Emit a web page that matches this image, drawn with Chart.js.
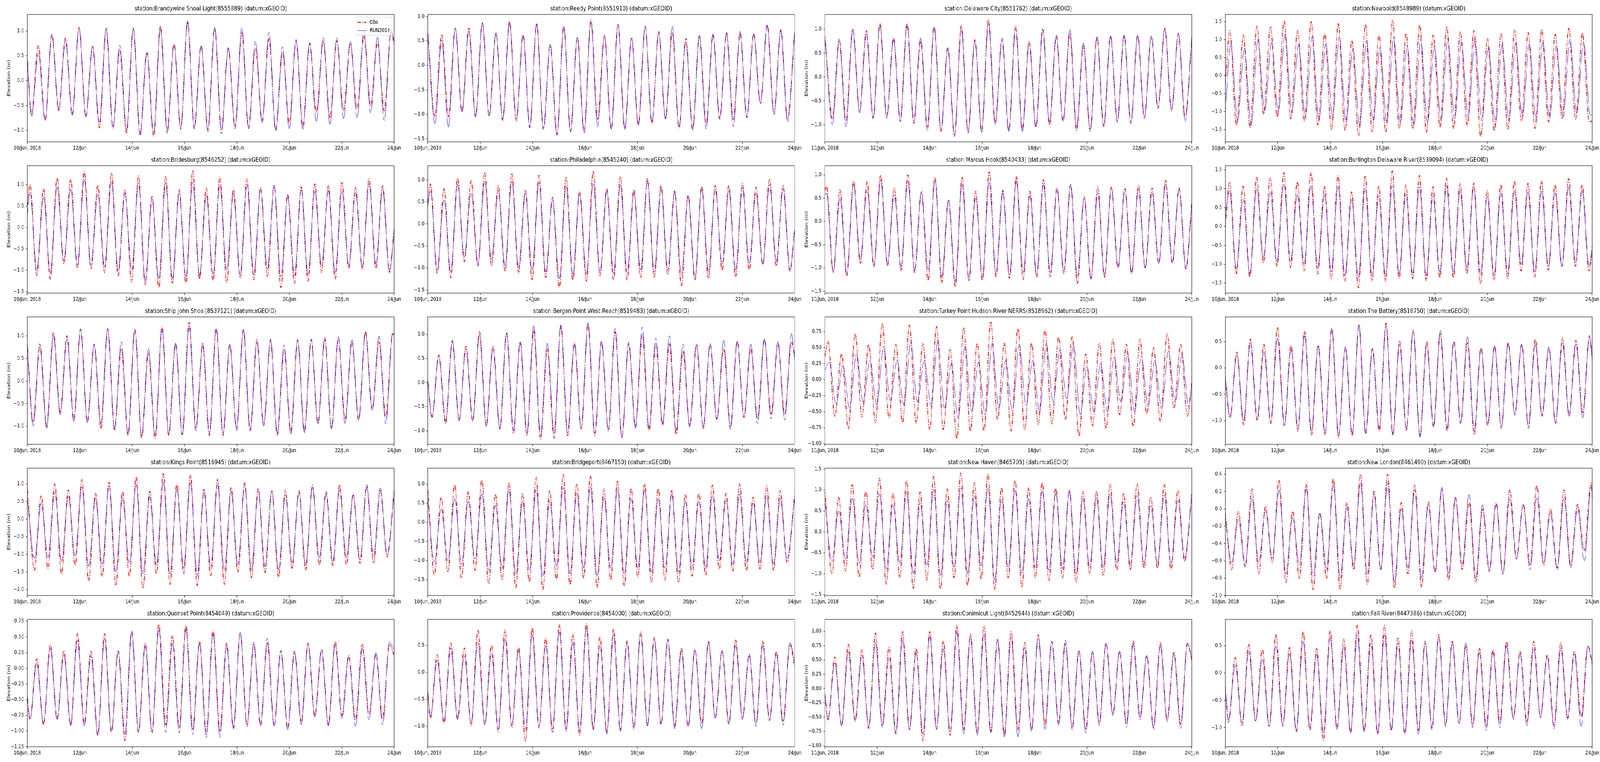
<!DOCTYPE html>
<html><head><meta charset="utf-8">
<script src="https://cdn.jsdelivr.net/npm/chart.js@4.4.0/dist/chart.umd.min.js"></script>
<style>
html,body{margin:0;padding:0;background:#fff;width:100%;height:100%;overflow:hidden}
#stage{position:absolute;left:0;top:0;width:5150px;height:1950px;transform-origin:0 0}
#stage canvas{position:absolute}
</style></head><body>
<div id="stage"></div>
<script>
// ---------------- data ----------------
const tickDays = [0, 2, 4, 6, 8, 10, 12, 14];
const tickLabels = ["10/Jun, 2018", "12/Jun", "14/Jun", "16/Jun", "18/Jun", "20/Jun", "22/Jun", "24/Jun"];
const dayEnd = 14;
const halfTideDays = 0.2588;
const legendLabels = ["Obs", "RUN2018"];
const yAxisLabel = "Elevation (m)";

const stationTitles = [
  "station:Brandywine Shoal Light(8555889) (datum:xGEOID)",
  "station:Reedy Point(8551910) (datum:xGEOID)",
  "station:Delaware City(8551762) (datum:xGEOID)",
  "station:Newbold(8548989) (datum:xGEOID)",
  "station:Bridesburg(8546252) (datum:xGEOID)",
  "station:Philadelphia(8545240) (datum:xGEOID)",
  "station:Marcus Hook(8540433) (datum:xGEOID)",
  "station:Burlington Delaware River(8539094) (datum:xGEOID)",
  "station:Ship John Shoal(8537121) (datum:xGEOID)",
  "station:Bergen Point West Reach(8519483) (datum:xGEOID)",
  "station:Turkey Point Hudson River NERRS(8518962) (datum:xGEOID)",
  "station:The Battery(8518750) (datum:xGEOID)",
  "station:Kings Point(8516945) (datum:xGEOID)",
  "station:Bridgeport(8467150) (datum:xGEOID)",
  "station:New Haven(8465705) (datum:xGEOID)",
  "station:New London(8461490) (datum:xGEOID)",
  "station:Quonset Point(8454049) (datum:xGEOID)",
  "station:Providence(8454000) (datum:xGEOID)",
  "station:Conimicut Light(8452944) (datum:xGEOID)",
  "station:Fall River(8447386) (datum:xGEOID)"
];
// day (after 10 Jun 00:00) of the first high/low water
const firstExtremeDay = [0.161,0.27,0.29,0.17,0.10,0.10,0.06,0.16,0.22,0.16,0.12,0.18,0.27,0.25,0.27,0.24,0.10,0.10,0.12,0.12];
const runLagDays = [0,0,0,0.04,0,0,0,0,0,0,0.05,0,0,0,0,0,0,0,0,0];
const yMin = [-1.23,-1.56,-1.36,-1.84,-1.53,-1.57,-1.54,-1.76,-1.40,-1.28,-1.01,-1.45,-2.17,-1.91,-1.52,-1.00,-1.25,-1.38,-1.02,-1.35];
const yMax = [1.33,1.04,1.31,1.70,1.44,1.32,1.20,1.61,1.42,1.36,0.98,0.97,1.45,1.41,1.52,0.47,0.78,0.98,1.21,0.98];
const yTicks = [
  [-1.0,-0.5,0,0.5,1.0],
  [-1.5,-1.0,-0.5,0,0.5,1.0],
  [-1.0,-0.5,0,0.5,1.0],
  [-1.5,-1.0,-0.5,0,0.5,1.0,1.5],
  [-1.5,-1.0,-0.5,0,0.5,1.0],
  [-1.5,-1.0,-0.5,0,0.5,1.0],
  [-1.5,-1.0,-0.5,0,0.5,1.0],
  [-1.5,-1.0,-0.5,0,0.5,1.0,1.5],
  [-1.0,-0.5,0,0.5,1.0],
  [-1.0,-0.5,0,0.5,1.0],
  [-1.0,-0.75,-0.5,-0.25,0,0.25,0.5,0.75],
  [-1.0,-0.5,0,0.5],
  [-2.0,-1.5,-1.0,-0.5,0,0.5,1.0],
  [-1.5,-1.0,-0.5,0,0.5,1.0],
  [-1.5,-1.0,-0.5,0,0.5,1.0,1.5],
  [-1.0,-0.8,-0.6,-0.4,-0.2,0,0.2,0.4],
  [-1.25,-1.0,-0.75,-0.5,-0.25,0,0.25,0.5,0.75],
  [-1.0,-0.5,0,0.5],
  [-1.0,-0.75,-0.5,-0.25,0,0.25,0.5,0.75,1.0],
  [-1.0,-0.5,0,0.5]
];
const yTickDecimals = [1,1,1,1,1,1,1,1,1,1,2,1,1,1,1,1,2,1,2,1];

// series: [value at start, successive high/low waters..., value at end]
const obs01 = [0.40,-0.68,0.70,-0.80,0.93,-0.60,0.85,-0.68,1.06,-0.72,0.70,-0.95,1.03,-0.95,0.62,-1.05,1.05,-1.10,0.55,-1.12,1.10,-1.02,0.74,-0.97,1.20,-0.95,0.70,-0.98,1.05,-1.00,0.65,-0.92,0.98,-0.95,0.65,-0.80,0.84,-1.00,0.57,-0.85,0.80,-0.92,0.74,-0.63,0.80,-0.75,0.80,-0.60,0.75,-0.56,0.90,-0.50,0.77,-0.60,0.98,0.73];
const run01 = [0.42,-0.72,0.55,-0.80,0.93,-0.57,0.80,-0.70,1.08,-0.73,0.67,-0.85,1.06,-0.93,0.71,-1.00,1.06,-1.08,0.58,-1.08,1.05,-1.06,0.72,-0.98,1.18,-0.97,0.70,-1.03,1.07,-1.07,0.67,-0.97,1.06,-0.97,0.79,-0.85,0.97,-1.00,0.68,-0.97,0.83,-0.98,0.77,-0.82,0.86,-0.88,0.86,-0.77,0.79,-0.75,1.00,-0.65,0.88,-0.80,1.00,0.78];
const obs02 = [0.66,-1.05,0.63,-1.05,0.76,-0.93,0.76,-1.05,0.87,-1.03,0.66,-1.10,0.90,-1.13,0.62,-1.25,0.85,-1.30,0.42,-1.40,0.80,-1.35,0.57,-1.35,0.93,-1.10,0.62,-1.30,0.85,-1.30,0.57,-1.20,0.80,-1.18,0.67,-1.08,0.67,-1.28,0.55,-1.30,0.62,-1.20,0.62,-1.08,0.67,-1.10,0.65,-1.05,0.65,-0.77,0.83,-0.98,0.73,-1.10,0.72];
const run02 = [0.62,-1.19,0.52,-1.26,0.76,-0.95,0.70,-1.05,0.87,-1.03,0.65,-1.13,0.86,-1.10,0.62,-1.28,0.85,-1.28,0.43,-1.43,0.78,-1.35,0.57,-1.38,0.88,-1.25,0.60,-1.30,0.82,-1.28,0.55,-1.23,0.80,-1.15,0.70,-1.10,0.80,-1.25,0.48,-1.32,0.60,-1.30,0.65,-1.10,0.65,-1.25,0.70,-1.07,0.63,-0.78,0.82,-1.00,0.72,-1.15,0.72];
const obs03 = [0.88,-0.87,0.80,-0.92,1.02,-0.73,0.97,-0.85,1.12,-0.85,0.82,-0.93,1.12,-0.97,0.75,-1.12,1.05,-1.15,0.60,-1.25,1.07,-1.15,0.78,-1.13,1.20,-0.95,0.80,-1.12,1.07,-1.10,0.75,-1.05,1.00,-1.00,0.85,-0.93,0.90,-1.12,0.65,-1.10,0.82,-1.05,0.85,-0.92,0.87,-0.97,0.87,-0.85,0.85,-0.65,1.02,-0.70,0.90,-0.82,0.75];
const run03 = [0.85,-1.00,0.75,-1.05,0.98,-0.75,0.90,-0.88,1.08,-0.87,0.78,-0.92,1.07,-0.92,0.82,-1.05,1.05,-1.12,0.62,-1.22,1.00,-1.18,0.75,-1.17,1.12,-1.00,0.78,-1.15,1.02,-1.15,0.70,-1.05,1.00,-0.95,0.88,-0.92,1.00,-1.05,0.72,-1.15,0.85,-1.02,0.87,-0.95,0.88,-0.95,0.87,-0.87,0.85,-0.65,1.00,-0.68,0.92,-0.93,0.85];
const obs04 = [-0.25,1.25,-1.38,1.13,-1.45,1.37,-1.07,1.37,-1.15,1.52,-1.20,1.25,-1.27,1.50,-1.37,1.17,-1.50,1.45,-1.53,0.98,-1.67,1.43,-1.57,1.13,-1.57,1.55,-1.47,1.17,-1.48,1.42,-1.57,1.13,-1.43,1.37,-1.47,1.23,-1.38,1.25,-1.70,1.03,-1.53,1.18,-1.50,1.27,-1.27,1.20,-1.47,1.28,-1.28,1.15,-1.20,1.32,-1.22,1.18,-1.30,-1.25];
const run04 = [-0.95,0.88,-1.25,0.76,-1.35,1.00,-0.98,0.93,-1.02,1.15,-1.02,0.87,-1.15,1.10,-1.25,0.88,-1.15,1.08,-1.30,0.75,-1.40,0.98,-1.25,0.78,-1.30,1.07,-1.30,0.83,-1.35,1.02,-1.30,0.82,-1.25,1.03,-1.20,0.93,-1.15,1.03,-1.25,0.78,-1.37,0.85,-1.25,0.90,-1.15,0.88,-1.20,0.92,-1.18,0.83,-1.15,1.00,-1.05,0.93,-1.10,-1.08];
const obs05 = [0.50,1.00,-1.12,0.90,-1.20,1.15,-0.85,1.12,-0.95,1.30,-0.97,0.98,-1.05,1.28,-1.13,0.88,-1.27,1.20,-1.33,0.72,-1.40,1.20,-1.30,0.88,-1.30,1.33,-1.20,0.92,-1.25,1.18,-1.28,0.90,-1.18,1.13,-1.22,0.93,-1.15,0.98,-1.40,0.77,-1.30,0.95,-1.25,1.02,-1.05,0.97,-1.20,1.05,-0.95,0.93,-0.97,1.13,-0.95,0.97,-1.05,0.00];
const run05 = [0.30,0.82,-1.00,0.70,-1.05,0.95,-0.78,0.90,-0.88,1.12,-0.88,0.78,-0.92,1.08,-1.00,0.80,-1.00,1.05,-1.25,0.65,-1.20,1.05,-1.20,0.80,-1.15,1.05,-1.12,0.75,-1.10,1.00,-1.00,0.78,-1.10,1.00,-1.10,0.90,-0.98,0.98,-1.15,0.72,-1.12,0.88,-1.10,0.85,-0.90,0.87,-1.05,0.85,-0.90,0.82,-0.92,1.02,-0.85,0.90,-1.00,-0.05];
const obs06 = [0.50,0.91,-1.12,0.80,-1.22,1.03,-0.85,0.98,-0.95,1.17,-0.95,0.87,-1.08,1.15,-1.12,0.77,-1.27,1.10,-1.22,0.60,-1.45,1.07,-1.27,0.75,-1.30,1.20,-1.17,0.80,-1.27,1.08,-1.27,0.78,-1.22,1.03,-1.22,0.87,-1.15,0.75,-1.40,0.65,-1.27,0.85,-1.25,0.87,-1.05,0.87,-1.20,0.92,-1.05,0.83,-0.92,1.02,-0.95,0.87,-1.07,-0.10];
const run06 = [0.40,0.75,-1.05,0.55,-1.10,0.90,-0.75,0.70,-0.90,0.97,-0.82,0.75,-0.95,0.97,-1.00,0.70,-1.05,0.95,-1.10,0.55,-1.25,0.85,-1.15,0.70,-1.15,0.92,-1.10,0.75,-1.12,0.90,-1.10,0.70,-1.05,0.97,-1.10,0.80,-1.05,0.72,-1.15,0.62,-1.20,0.80,-1.10,0.77,-0.90,0.75,-1.05,0.82,-0.90,0.70,-0.92,0.90,-0.85,0.80,-1.05,-0.10];
const obs07 = [0.65,0.77,-1.10,0.68,-1.17,0.87,-0.90,0.85,-0.97,1.00,-0.95,0.72,-1.05,1.00,-1.10,0.65,-1.27,0.95,-1.32,0.47,-1.40,0.95,-1.27,0.65,-1.27,1.07,-1.18,0.67,-1.22,0.97,-1.25,0.65,-1.20,0.90,-1.20,0.72,-1.12,0.80,-1.33,0.53,-1.22,0.75,-1.20,0.75,-1.00,0.72,-1.12,0.78,-1.00,0.72,-0.90,0.88,-0.90,0.72,-1.02,0.40];
const run07 = [0.55,0.62,-1.08,0.50,-1.15,0.80,-0.82,0.68,-0.93,0.90,-0.92,0.58,-0.98,0.88,-1.05,0.62,-1.05,0.88,-1.20,0.45,-1.30,0.80,-1.20,0.52,-1.20,0.85,-1.12,0.62,-1.15,0.87,-1.10,0.55,-1.15,0.80,-1.10,0.70,-1.05,0.80,-1.18,0.50,-1.25,0.62,-1.15,0.72,-0.97,0.70,-1.10,0.70,-1.00,0.62,-0.90,0.80,-0.87,0.70,-1.00,0.35];
const obs08 = [0.00,1.18,-1.25,1.07,-1.33,1.30,-0.95,1.28,-1.05,1.43,-1.08,1.18,-1.17,1.42,-1.25,1.07,-1.38,1.35,-1.45,0.92,-1.62,1.33,-1.45,1.07,-1.45,1.47,-1.37,1.10,-1.38,1.35,-1.43,1.05,-1.35,1.28,-1.35,1.15,-1.25,1.15,-1.52,0.95,-1.42,1.10,-1.38,1.20,-1.17,1.15,-1.33,1.20,-1.15,1.10,-1.05,1.27,-1.05,1.10,-1.17,-0.65];
const run08 = [0.30,0.95,-1.12,0.72,-1.25,1.00,-0.82,0.92,-0.92,1.12,-0.92,0.85,-1.00,1.08,-1.10,0.85,-1.20,1.07,-1.30,0.72,-1.35,1.02,-1.30,0.82,-1.30,1.07,-1.25,0.85,-1.25,1.05,-1.30,0.80,-1.20,1.07,-1.20,0.97,-1.10,1.05,-1.25,0.80,-1.30,0.90,-1.25,0.95,-1.00,0.92,-1.20,0.95,-1.05,0.90,-1.05,1.05,-0.95,0.95,-1.05,-0.50];
const obs09 = [0.75,-0.90,0.82,-1.02,1.07,-0.70,1.00,-0.85,1.15,-0.90,0.80,-1.05,1.17,-1.08,0.72,-1.20,1.15,-1.25,0.62,-1.27,1.20,-1.20,0.82,-1.18,1.30,-1.05,0.78,-1.20,1.17,-1.20,0.80,-1.05,1.13,-1.10,0.85,-0.97,0.90,-1.20,0.70,-1.10,0.90,-1.10,0.92,-0.92,0.92,-1.05,0.95,-0.85,0.87,-0.87,1.10,-0.62,0.87,-0.80,1.05,1.00];
const run09 = [0.80,-1.00,0.75,-1.05,1.00,-0.75,0.92,-0.90,1.15,-0.92,0.82,-0.95,1.15,-1.05,0.87,-1.15,1.15,-1.22,0.72,-1.20,1.15,-1.18,0.85,-1.20,1.20,-1.10,0.85,-1.15,1.15,-1.15,0.82,-1.10,1.15,-1.08,0.93,-1.00,0.93,-1.15,0.80,-1.18,0.92,-1.15,0.92,-0.95,0.97,-1.05,0.97,-0.95,0.92,-0.85,1.08,-0.65,1.00,-0.95,1.05,1.05];
const obs10 = [0.00,-0.71,0.57,-0.85,0.85,-0.78,0.75,-0.80,1.05,-0.88,0.75,-0.97,1.03,-1.05,0.82,-1.10,1.08,-1.18,0.70,-1.15,1.17,-1.10,0.82,-0.97,1.20,-1.10,0.85,-1.00,1.05,-1.15,0.82,-0.92,1.00,-1.00,0.80,-0.88,0.80,-1.07,0.65,-0.90,0.78,-0.95,0.80,-0.75,0.70,-0.92,0.85,-0.72,0.70,-0.75,0.90,-0.65,0.80,-0.65,0.85,0.55];
const run10 = [0.05,-0.73,0.55,-0.80,0.88,-0.80,0.70,-0.78,0.98,-0.92,0.70,-0.95,1.03,-1.00,0.85,-1.05,1.18,-1.12,0.82,-1.05,1.20,-1.05,0.80,-0.95,1.25,-1.05,0.85,-0.98,1.12,-1.15,0.80,-0.95,1.15,-0.95,0.92,-0.85,0.97,-1.00,0.80,-0.92,0.80,-0.92,0.80,-0.78,0.88,-0.97,0.85,-0.70,0.80,-0.85,0.90,-0.75,0.85,-0.78,1.02,0.45];
const obs11 = [0.35,0.60,-0.58,0.40,-0.77,0.72,-0.58,0.55,-0.67,0.88,-0.60,0.55,-0.67,0.85,-0.68,0.57,-0.78,0.83,-0.78,0.47,-0.92,0.82,-0.80,0.57,-0.80,0.90,-0.62,0.57,-0.80,0.80,-0.78,0.57,-0.70,0.78,-0.70,0.67,-0.62,0.67,-0.88,0.40,-0.72,0.57,-0.77,0.63,-0.55,0.55,-0.73,0.63,-0.53,0.50,-0.65,0.72,-0.45,0.55,-0.57,-0.05];
const run11 = [0.15,0.27,-0.38,0.22,-0.45,0.40,-0.35,0.30,-0.40,0.52,-0.33,0.30,-0.40,0.58,-0.35,0.30,-0.40,0.60,-0.45,0.25,-0.60,0.52,-0.50,0.28,-0.55,0.57,-0.45,0.30,-0.50,0.55,-0.40,0.30,-0.50,0.57,-0.35,0.47,-0.30,0.55,-0.55,0.20,-0.50,0.25,-0.50,0.35,-0.35,0.40,-0.50,0.37,-0.42,0.30,-0.45,0.45,-0.35,0.38,-0.42,-0.05];
const obs12 = [-0.20,-0.95,0.30,-1.08,0.55,-1.00,0.45,-1.05,0.77,-1.10,0.43,-1.20,0.70,-1.27,0.42,-1.27,0.75,-1.32,0.40,-1.28,0.83,-1.25,0.37,-1.20,0.85,-1.25,0.52,-1.18,0.72,-1.30,0.50,-1.12,0.65,-1.20,0.50,-1.05,0.48,-1.27,0.38,-1.10,0.42,-1.12,0.48,-0.88,0.45,-1.10,0.55,-0.90,0.38,-1.05,0.57,-0.90,0.52,-0.85,0.60,0.15];
const run12 = [-0.15,-0.92,0.25,-1.00,0.48,-0.97,0.30,-1.02,0.57,-1.08,0.35,-1.15,0.62,-1.20,0.43,-1.25,0.75,-1.28,0.40,-1.25,0.80,-1.25,0.35,-1.15,0.80,-1.28,0.45,-1.15,0.70,-1.32,0.45,-1.12,0.72,-1.15,0.50,-1.05,0.60,-1.20,0.37,-1.05,0.42,-1.15,0.45,-0.90,0.45,-1.15,0.45,-0.92,0.40,-1.05,0.48,-0.92,0.45,-0.95,0.62,0.15];
const obs13 = [0.84,-1.45,0.67,-1.40,1.00,-1.55,0.83,-1.30,1.12,-1.75,0.73,-1.62,1.05,-1.87,0.78,-1.62,1.20,-1.97,0.80,-1.55,1.30,-1.85,1.00,-1.55,1.25,-1.88,0.85,-1.60,1.13,-1.85,0.90,-1.50,1.03,-1.67,0.88,-1.52,0.82,-1.65,0.82,-1.40,0.80,-1.45,0.97,-1.30,0.78,-1.32,0.98,-1.30,0.70,-1.25,0.97,-1.25,0.88,-1.07,0.85];
const run13 = [0.55,-1.12,0.45,-1.10,0.75,-1.20,0.65,-1.05,0.92,-1.35,0.60,-1.30,0.95,-1.50,0.60,-1.25,1.00,-1.55,0.65,-1.30,1.05,-1.55,0.85,-1.40,1.05,-1.60,0.75,-1.35,1.00,-1.45,0.78,-1.30,0.97,-1.45,0.80,-1.35,0.80,-1.45,0.70,-1.25,0.75,-1.30,0.90,-1.10,0.72,-1.20,0.85,-1.10,0.70,-1.15,0.90,-1.05,0.82,-1.00,0.75];
const obs14 = [0.85,-1.37,0.65,-1.30,0.97,-1.45,0.80,-1.25,1.10,-1.60,0.73,-1.50,1.03,-1.70,0.75,-1.55,1.17,-1.75,0.83,-1.50,1.25,-1.63,1.00,-1.45,1.20,-1.70,0.87,-1.50,1.07,-1.65,0.88,-1.43,1.00,-1.57,0.87,-1.50,0.83,-1.57,0.73,-1.40,0.75,-1.38,0.97,-1.22,0.75,-1.27,1.00,-1.25,0.65,-1.22,0.95,-1.25,0.82,-1.05,0.75];
const run14 = [0.55,-1.05,0.35,-1.00,0.62,-1.10,0.55,-0.95,0.75,-1.25,0.45,-1.20,0.85,-1.35,0.55,-1.25,0.85,-1.40,0.55,-1.15,0.90,-1.35,0.75,-1.20,0.92,-1.40,0.65,-1.20,0.85,-1.35,0.62,-1.20,0.85,-1.30,0.62,-1.20,0.72,-1.30,0.55,-1.15,0.55,-1.20,0.70,-1.00,0.58,-1.10,0.75,-1.05,0.50,-1.05,0.70,-1.10,0.62,-0.95,0.65];
const obs15 = [1.00,-1.00,0.82,-0.93,1.13,-1.08,0.97,-0.90,1.28,-1.25,0.92,-1.10,1.22,-1.35,0.95,-1.15,1.32,-1.37,1.02,-1.10,1.40,-1.28,1.17,-1.13,1.38,-1.37,1.05,-1.10,1.23,-1.32,1.05,-1.10,1.17,-1.17,1.05,-1.10,1.00,-1.20,0.97,-1.00,0.97,-1.05,1.13,-0.92,0.92,-0.90,1.15,-0.87,0.83,-0.87,1.12,-0.90,1.00,-0.70,0.90];
const run15 = [0.75,-0.70,0.50,-0.65,0.80,-0.75,0.65,-0.60,0.92,-0.90,0.65,-0.75,0.95,-1.00,0.70,-0.80,1.00,-1.05,0.75,-0.85,1.05,-1.00,0.85,-0.82,1.05,-1.15,0.78,-0.85,1.00,-1.00,0.80,-0.85,0.97,-0.92,0.92,-0.88,0.97,-1.00,0.80,-0.85,0.82,-0.85,0.90,-0.75,0.72,-0.80,0.87,-0.75,0.62,-0.75,0.88,-0.75,0.75,-0.62,0.85];
const obs16 = [-0.05,-0.70,-0.03,-0.67,0.23,-0.75,0.03,-0.62,0.33,-0.85,-0.03,-0.80,0.28,-0.93,-0.05,-0.80,0.35,-0.93,0.07,-0.70,0.40,-0.87,0.20,-0.70,0.40,-0.92,0.07,-0.75,0.28,-0.90,0.08,-0.73,0.23,-0.82,0.13,-0.70,0.08,-0.85,0.00,-0.72,0.07,-0.75,0.22,-0.57,0.05,-0.65,0.27,-0.65,0.00,-0.68,0.22,-0.65,0.05,-0.48,0.30,0.15];
const run16 = [-0.10,-0.62,-0.12,-0.65,0.12,-0.62,-0.02,-0.57,0.22,-0.75,-0.10,-0.65,0.23,-0.78,-0.05,-0.70,0.28,-0.80,0.02,-0.65,0.30,-0.75,0.17,-0.70,0.30,-0.85,0.00,-0.68,0.22,-0.80,0.05,-0.72,0.25,-0.75,0.13,-0.65,0.17,-0.80,0.05,-0.70,0.05,-0.75,0.12,-0.58,0.05,-0.70,0.13,-0.62,-0.05,-0.70,0.12,-0.68,0.02,-0.60,0.25,0.12];
const obs17 = [-0.50,-0.82,0.15,-0.90,0.38,-0.80,0.28,-0.90,0.55,-0.88,0.28,-1.07,0.55,-1.02,0.28,-1.15,0.58,-1.02,0.40,-1.03,0.70,-0.90,0.52,-0.95,0.68,-0.98,0.43,-1.05,0.60,-1.00,0.40,-0.95,0.57,-0.90,0.38,-0.90,0.40,-0.92,0.28,-0.95,0.28,-0.85,0.40,-0.75,0.30,-0.90,0.43,-0.75,0.20,-0.82,0.38,-0.72,0.22,-0.80,0.38,0.20];
const run17 = [-0.45,-0.80,0.08,-0.88,0.32,-0.82,0.22,-0.92,0.45,-0.92,0.20,-1.05,0.48,-1.00,0.28,-1.05,0.60,-1.00,0.35,-1.00,0.62,-1.02,0.40,-1.03,0.62,-1.05,0.40,-1.10,0.55,-1.10,0.35,-0.97,0.57,-0.93,0.42,-0.92,0.48,-0.92,0.28,-0.98,0.25,-0.90,0.38,-0.78,0.30,-0.92,0.38,-0.80,0.18,-0.93,0.32,-0.82,0.25,-0.90,0.42,0.30];
const obs18 = [-0.40,-0.85,0.32,-0.95,0.55,-0.85,0.45,-0.98,0.78,-0.97,0.50,-1.10,0.78,-1.02,0.47,-1.28,0.82,-1.03,0.63,-1.12,0.88,-1.05,0.70,-1.17,0.90,-1.05,0.65,-1.12,0.80,-1.07,0.58,-1.05,0.75,-0.98,0.65,-0.97,0.60,-1.00,0.45,-1.00,0.43,-0.95,0.57,-0.85,0.40,-0.95,0.60,-0.85,0.33,-0.95,0.57,-0.88,0.38,-0.90,0.52,0.10];
const run18 = [-0.35,-0.82,0.22,-0.90,0.45,-0.88,0.30,-0.95,0.55,-0.97,0.35,-1.05,0.62,-0.98,0.40,-1.05,0.70,-1.00,0.50,-1.05,0.75,-1.10,0.55,-1.10,0.82,-1.08,0.50,-1.15,0.70,-1.10,0.55,-1.00,0.70,-1.00,0.62,-0.95,0.62,-1.05,0.40,-1.00,0.40,-1.05,0.55,-0.85,0.40,-0.97,0.50,-0.88,0.30,-1.00,0.50,-0.90,0.35,-0.98,0.55,0.20];
const obs19 = [-0.10,-0.55,0.55,-0.65,0.77,-0.55,0.67,-0.70,0.97,-0.65,0.72,-0.78,1.00,-0.72,0.70,-0.92,1.00,-0.70,0.83,-0.82,1.10,-0.72,0.95,-0.78,1.10,-0.75,0.87,-0.80,1.00,-0.72,0.80,-0.72,0.92,-0.62,0.82,-0.60,0.78,-0.68,0.67,-0.72,0.65,-0.60,0.80,-0.45,0.65,-0.62,0.83,-0.50,0.57,-0.68,0.80,-0.55,0.63,-0.62,0.78,0.50];
const run19 = [-0.05,-0.52,0.45,-0.65,0.65,-0.58,0.58,-0.68,0.80,-0.68,0.55,-0.80,0.85,-0.73,0.62,-0.80,0.92,-0.72,0.70,-0.75,1.00,-0.80,0.90,-0.82,0.95,-0.78,0.85,-0.85,0.90,-0.85,0.72,-0.75,0.95,-0.72,0.82,-0.65,0.85,-0.72,0.65,-0.78,0.65,-0.65,0.78,-0.48,0.65,-0.68,0.78,-0.55,0.58,-0.72,0.75,-0.58,0.60,-0.70,0.80,0.55];
const obs20 = [-0.30,-0.90,0.28,-0.97,0.52,-0.88,0.43,-0.98,0.70,-0.95,0.47,-1.08,0.75,-1.05,0.45,-1.23,0.77,-1.02,0.62,-1.10,0.87,-1.05,0.70,-1.12,0.87,-1.05,0.65,-1.12,0.77,-1.05,0.58,-1.03,0.70,-0.95,0.58,-0.93,0.50,-0.95,0.45,-0.98,0.42,-0.90,0.57,-0.83,0.40,-0.90,0.58,-0.80,0.33,-0.95,0.55,-0.82,0.40,-0.80,0.50,0.15];
const run20 = [-0.25,-0.85,0.15,-0.92,0.40,-0.88,0.25,-0.98,0.50,-0.98,0.35,-1.05,0.58,-1.00,0.35,-1.10,0.65,-1.03,0.48,-1.08,0.70,-1.08,0.55,-1.10,0.70,-1.05,0.55,-1.10,0.60,-1.12,0.55,-1.00,0.65,-0.98,0.55,-0.92,0.55,-1.00,0.38,-1.05,0.38,-1.00,0.50,-0.85,0.35,-0.97,0.45,-0.82,0.30,-1.02,0.45,-0.85,0.35,-0.98,0.48,0.20];

const obsSeries = [obs01,obs02,obs03,obs04,obs05,obs06,obs07,obs08,obs09,obs10,obs11,obs12,obs13,obs14,obs15,obs16,obs17,obs18,obs19,obs20];
const runSeries = [run01,run02,run03,run04,run05,run06,run07,run08,run09,run10,run11,run12,run13,run14,run15,run16,run17,run18,run19,run20];

// ---------------- layout ----------------
const PAGE_W = 5150, PAGE_H = 1950;
const COL_LEFT = [88, 1377, 2655, 3944];
const ROW_TOP = [37, 424, 811, 1198, 1585];
const PLOT_W = 1182, PLOT_H = 326;
const Y_AXIS_W = 88, TITLE_H = 37, X_AXIS_H = 30, RIGHT_PAD = 24;
const FONT = "DejaVu Sans";
const OBS_COLOR = "rgb(255,0,0)", RUN_COLOR = "rgb(0,0,255)";
const OBS_DASH = [11, 3.5, 2.5, 3.5];

// fit the 5150x1950 drawing into whatever viewport the browser really has
const stage = document.getElementById("stage");
const vw = window.innerWidth || document.documentElement.clientWidth || PAGE_W;
const vh = window.innerHeight || document.documentElement.clientHeight || PAGE_H;
stage.style.transform = "scale(" + (vw / PAGE_W) + "," + (vh / PAGE_H) + ")";

Chart.defaults.font.family = FONT;
Chart.defaults.color = "#000";

function toPoints(vals, t0) {
  const pts = [{x: 0, y: vals[0]}];
  const n = vals.length - 2;
  for (let i = 0; i < n; i++) pts.push({x: t0 + i * halfTideDays, y: vals[i + 1]});
  pts.push({x: dayEnd, y: vals[vals.length - 1]});
  return pts;
}
function fmtTick(v, dec) {
  const s = Math.abs(v).toFixed(dec);
  return (v < -1e-9 ? "\u2212" : "") + s;
}

const framePlugin = {
  id: "frame",
  afterDatasetsDraw(chart) {
    const {ctx, chartArea: a} = chart;
    ctx.save();
    ctx.strokeStyle = "#000";
    ctx.lineWidth = 1.1;
    ctx.strokeRect(a.left, a.top, a.right - a.left, a.bottom - a.top);
    ctx.restore();
  }
};
const legendPlugin = {
  id: "mplLegend",
  afterDraw(chart, args, opts) {
    if (!opts || !opts.show) return;
    const {ctx, chartArea: a} = chart;
    const w = 116, h = 46;
    const x0 = a.right - 7 - w, y0 = a.top + 7;
    ctx.save();
    ctx.beginPath();
    if (ctx.roundRect) ctx.roundRect(x0, y0, w, h, 3); else ctx.rect(x0, y0, w, h);
    ctx.fillStyle = "rgba(255,255,255,0.8)";
    ctx.fill();
    ctx.strokeStyle = "#cccccc";
    ctx.lineWidth = 1;
    ctx.stroke();
    const rows = [y0 + 13, y0 + 34];
    ctx.beginPath();
    ctx.setLineDash(OBS_DASH);
    ctx.strokeStyle = OBS_COLOR; ctx.lineWidth = 2.2;
    ctx.moveTo(x0 + 5, rows[0]); ctx.lineTo(x0 + 33, rows[0]); ctx.stroke();
    ctx.setLineDash([]);
    ctx.beginPath();
    ctx.strokeStyle = RUN_COLOR; ctx.lineWidth = 1;
    ctx.moveTo(x0 + 5, rows[1]); ctx.lineTo(x0 + 33, rows[1]); ctx.stroke();
    ctx.fillStyle = "#000";
    ctx.font = "13.9px '" + FONT + "'";
    ctx.textBaseline = "middle"; ctx.textAlign = "left";
    ctx.fillText(legendLabels[0], x0 + 44, rows[0]);
    ctx.fillText(legendLabels[1], x0 + 44, rows[1]);
    ctx.restore();
  }
};

for (let k = 0; k < 20; k++) {
  const r = Math.floor(k / 4), c = k % 4;
  const cv = document.createElement("canvas");
  const W = Y_AXIS_W + PLOT_W + RIGHT_PAD, H = TITLE_H + PLOT_H + X_AXIS_H;
  cv.width = W; cv.height = H;
  cv.style.width = W + "px"; cv.style.height = H + "px";
  cv.style.left = (COL_LEFT[c] - Y_AXIS_W) + "px";
  cv.style.top = (ROW_TOP[r] - TITLE_H) + "px";
  stage.appendChild(cv);
  const dec = yTickDecimals[k];
  const ticksY = yTicks[k];
  new Chart(cv.getContext("2d"), {
    type: "line",
    data: {
      datasets: [
        {label: legendLabels[0], data: toPoints(obsSeries[k], firstExtremeDay[k]),
         borderColor: OBS_COLOR, borderWidth: 2.2, borderDash: OBS_DASH,
         pointRadius: 0, fill: false, cubicInterpolationMode: "monotone", order: 2},
        {label: legendLabels[1], data: toPoints(runSeries[k], firstExtremeDay[k] + runLagDays[k]),
         borderColor: RUN_COLOR, borderWidth: 1,
         pointRadius: 0, fill: false, cubicInterpolationMode: "monotone", order: 1}
      ]
    },
    options: {
      responsive: false, animation: false, devicePixelRatio: 1,
      events: [],
      layout: {padding: {left: 0, right: RIGHT_PAD, top: 0, bottom: 0}},
      plugins: {
        legend: {display: false},
        tooltip: {enabled: false},
        title: {display: true, text: stationTitles[k], fullSize: false, color: "#000",
                font: {family: FONT, size: 16.7, weight: "normal", lineHeight: 1.2},
                padding: {top: 13, bottom: 4}},
        mplLegend: {show: k === 0}
      },
      scales: {
        x: {
          type: "linear", min: 0, max: dayEnd,
          afterBuildTicks: (s) => { s.ticks = tickDays.map(v => ({value: v})); },
          afterFit: (s) => { s.height = X_AXIS_H; },
          ticks: {autoSkip: false, maxRotation: 0, minRotation: 0, color: "#000", padding: 3,
                  font: {family: FONT, size: 13.9},
                  callback: (v) => { const i = tickDays.indexOf(v); return i >= 0 ? tickLabels[i] : ""; }},
          grid: {drawOnChartArea: false, drawTicks: true, tickLength: 5, color: "#000", lineWidth: 1.1},
          border: {display: false}
        },
        y: {
          type: "linear", min: yMin[k], max: yMax[k],
          afterBuildTicks: (s) => { s.ticks = ticksY.map(v => ({value: v})); },
          afterFit: (s) => { s.width = Y_AXIS_W; },
          ticks: {autoSkip: false, color: "#000", padding: 6, font: {family: FONT, size: 13.9},
                  callback: (v) => fmtTick(v, dec)},
          grid: {drawOnChartArea: false, drawTicks: true, tickLength: 5, color: "#000", lineWidth: 1.1},
          border: {display: false},
          title: {display: c % 2 === 0, text: yAxisLabel, color: "#000",
                  font: {family: FONT, size: 13.9}, padding: {top: 21, bottom: 0}}
        }
      }
    },
    plugins: [framePlugin, legendPlugin]
  });
}
</script>
</body></html>
